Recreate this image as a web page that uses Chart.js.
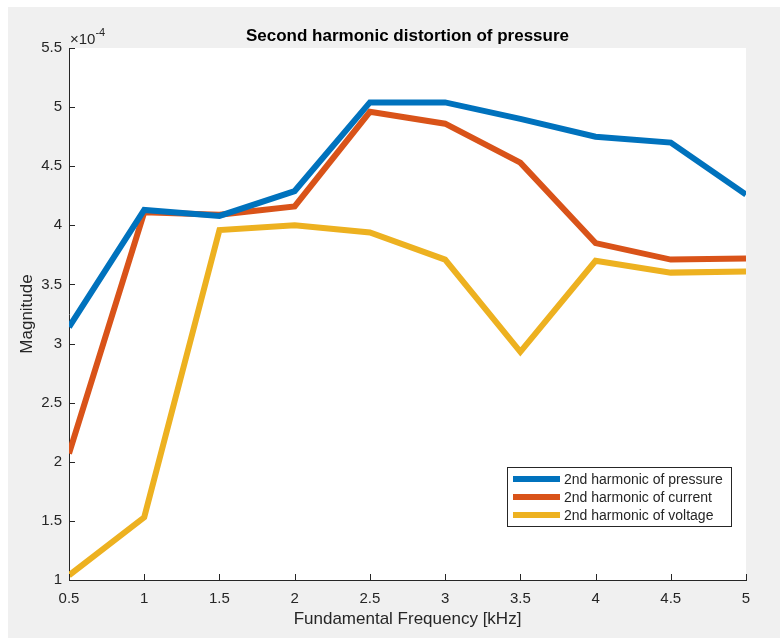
<!DOCTYPE html>
<html>
<head>
<meta charset="utf-8">
<script src="https://cdn.jsdelivr.net/npm/chart.js@4.4.0/dist/chart.umd.min.js"></script>
<style>
  html, body { margin: 0; padding: 0; background: #ffffff; }
  #wrap { width: 780px; height: 638px; }
</style>
</head>
<body>
<div id="wrap"><canvas id="harm" width="780" height="638"></canvas></div>
<script>
// fundamental frequency in kHz
var freqs = [0.5, 1, 1.5, 2, 2.5, 3, 3.5, 4, 4.5, 5];

// magnitudes, in units of 1e-4
var pressure = [3.14, 4.13, 4.08, 4.29, 5.04, 5.04, 4.90, 4.75, 4.70, 4.26];
var current  = [2.07, 4.11, 4.09, 4.16, 4.96, 4.86, 4.53, 3.85, 3.71, 3.72];
var voltage  = [1.04, 1.53, 3.96, 4.00, 3.94, 3.71, 2.93, 3.70, 3.60, 3.61];

var seriesNames = ['2nd harmonic of pressure', '2nd harmonic of current', '2nd harmonic of voltage'];
var colors = ['#0072BD', '#D95319', '#EDB120'];
var chartTitle = 'Second harmonic distortion of pressure';

var FONT = "'Liberation Sans', Arial, Helvetica, sans-serif";
var INK = '#262626';

function points(ys) {
    return freqs.map(function (f, i) { return { x: f, y: ys[i] }; });
}

// matlab style tick text: 1, 1.5, 2 ...
function tickText(v) {
    return String(Math.round(v * 10) / 10);
}

// grey figure background, white axes
var backdrop = {
    id: 'backdrop',
    beforeDraw: function (chart) {
        var ctx = chart.ctx, a = chart.chartArea;
        ctx.save();
        ctx.fillStyle = '#ffffff';
        ctx.fillRect(0, 0, chart.width, chart.height);
        ctx.fillStyle = '#f0f0f0';
        ctx.fillRect(8, 7, chart.width - 8, chart.height - 7);
        ctx.fillStyle = '#ffffff';
        ctx.fillRect(a.left, a.top, a.right - a.left, a.bottom - a.top);
        ctx.restore();
    }
};

// title over the axes, inward ticks, exponent label, legend box
var matlabBits = {
    id: 'matlabBits',
    afterDraw: function (chart) {
        var ctx = chart.ctx, a = chart.chartArea;
        var xs = chart.scales.x, ys = chart.scales.y;
        ctx.save();

        ctx.fillStyle = '#000000';
        ctx.textAlign = 'center';
        ctx.textBaseline = 'middle';
        ctx.font = 'bold 17px ' + FONT;
        ctx.fillText(chartTitle, (a.left + a.right) / 2, 36);

        ctx.strokeStyle = INK;
        ctx.lineWidth = 1;
        ctx.beginPath();
        xs.ticks.forEach(function (t) {
            var px = Math.round(xs.getPixelForValue(t.value)) + 0.5;
            ctx.moveTo(px, a.bottom);
            ctx.lineTo(px, a.bottom - 6);
        });
        ys.ticks.forEach(function (t) {
            var py = Math.round(ys.getPixelForValue(t.value)) + 0.5;
            ctx.moveTo(a.left, py);
            ctx.lineTo(a.left + 6, py);
        });
        ctx.stroke();

        // x10^-4
        ctx.fillStyle = INK;
        ctx.textAlign = 'left';
        ctx.font = '15px ' + FONT;
        ctx.fillText('\u00d710', a.left + 1, a.top - 8);
        var w = ctx.measureText('\u00d710').width;
        ctx.font = '11px ' + FONT;
        ctx.fillText('-4', a.left + 1 + w, a.top - 15);

        // legend
        var bw = 224, bh = 59;
        var bx = a.right - 15 - bw, by = a.bottom - 54 - bh;
        ctx.fillStyle = '#ffffff';
        ctx.fillRect(bx, by, bw, bh);
        ctx.strokeStyle = INK;
        ctx.strokeRect(bx + 0.5, by + 0.5, bw, bh);
        ctx.font = '14px ' + FONT;
        chart.data.datasets.forEach(function (ds, i) {
            var cy = by + 12 + i * 18;
            ctx.strokeStyle = ds.borderColor;
            ctx.lineWidth = 6;
            ctx.beginPath();
            ctx.moveTo(bx + 6, cy);
            ctx.lineTo(bx + 53, cy);
            ctx.stroke();
            ctx.fillStyle = INK;
            ctx.fillText(ds.label, bx + 57, cy + 1);
        });
        ctx.restore();
    }
};

var harmChart = new Chart(document.getElementById('harm'), {
    type: 'line',
    data: {
        datasets: [
            { label: seriesNames[0], data: points(pressure), borderColor: colors[0] },
            { label: seriesNames[1], data: points(current), borderColor: colors[1] },
            { label: seriesNames[2], data: points(voltage), borderColor: colors[2] }
        ]
    },
    options: {
        responsive: false,
        animation: false,
        events: [],
        elements: {
            line: { borderWidth: 6, tension: 0, borderCapStyle: 'butt', borderJoinStyle: 'miter', fill: false },
            point: { radius: 0 }
        },
        layout: { padding: { top: 48, left: 0, right: 34, bottom: 0 } },
        plugins: {
            legend: { display: false },
            tooltip: { enabled: false },
            title: { display: false }
        },
        scales: {
            x: {
                type: 'linear',
                min: 0.5,
                max: 5,
                grid: { display: false, drawTicks: false },
                border: { display: true, color: INK, width: 1 },
                ticks: { stepSize: 0.5, color: INK, padding: 10, font: { family: FONT, size: 15 }, maxRotation: 0,
                         callback: tickText },
                title: {
                    display: true,
                    text: 'Fundamental Frequency [kHz]',
                    color: INK,
                    font: { family: FONT, size: 17, lineHeight: 1.2 },
                    padding: { top: 0, bottom: 8 }
                },
                afterFit: function (s) { s.height = 58; }
            },
            y: {
                min: 1,
                max: 5.5,
                grid: { display: false, drawTicks: false },
                border: { display: true, color: INK, width: 1 },
                ticks: { stepSize: 0.5, color: INK, padding: 7, font: { family: FONT, size: 15 },
                         callback: tickText },
                title: {
                    display: true,
                    text: 'Magnitude',
                    color: INK,
                    font: { family: FONT, size: 17, lineHeight: 1.2 },
                    padding: { top: 17, bottom: 0 }
                },
                afterFit: function (s) { s.width = 69; }
            }
        }
    },
    plugins: [backdrop, matlabBits]
});
</script>
</body>
</html>
